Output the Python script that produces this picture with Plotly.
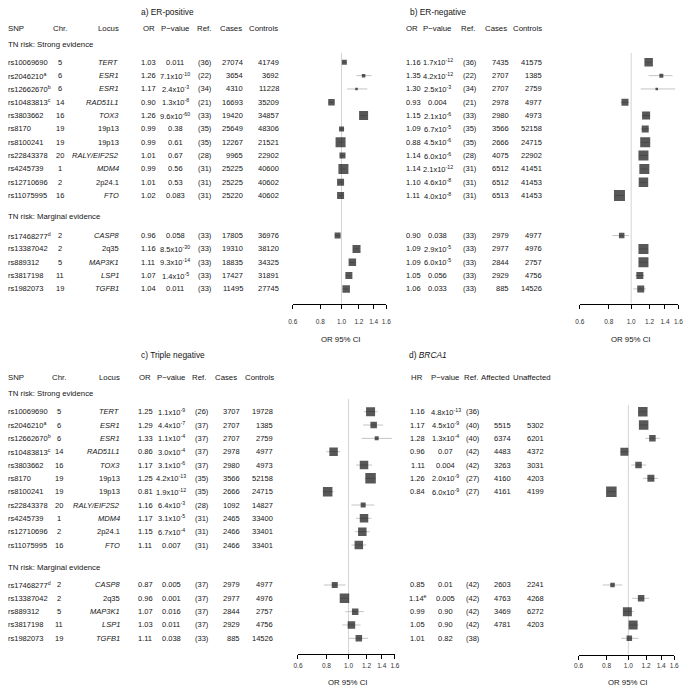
import math
import plotly.graph_objects as go

W, H = 690, 687
FONT = "Liberation Sans, Arial, sans-serif"
TXT = "#151515"
FS = 7.5      # row text
FSH = 7.8     # column headers / section labels
FST = 8.4     # panel titles

# ---------------- data ----------------
snps = ["rs10069690", "rs2046210", "rs12662670", "rs10483813", "rs3803662", "rs8170",
        "rs8100241", "rs22843378", "rs4245739", "rs12710696", "rs11075995",
        "rs17468277", "rs13387042", "rs889312", "rs3817198", "rs1982073"]
snp_notes = ["", "a", "b", "c", "", "", "", "", "", "", "", "d", "", "", "", ""]
chrs = ["5", "6", "6", "14", "16", "19", "19", "20", "1", "2", "16", "2", "2", "5", "11", "19"]
loci = ["TERT", "ESR1", "ESR1", "RAD51L1", "TOX3", "19p13", "19p13", "RALY/EIF2S2", "MDM4",
        "2p24.1", "FTO", "CASP8", "2q35", "MAP3K1", "LSP1", "TGFB1"]
loci_italic = [True, True, True, True, True, False, False, True, True, False, True,
               True, False, True, True, True]
row_index = [0, 1, 2, 3, 4, 5, 6, 7, 8, 9, 10, 13, 14, 15, 16, 17]
section_labels = ["TN risk: Strong evidence", "TN risk: Marginal evidence"]
tick_vals = [0.6, 0.8, 1.0, 1.2, 1.4, 1.6]
tick_text = ["0.6", "0.8", "1.0", "1.2", "1.4", "1.6"]

# a) ER-positive
a_or_txt = ["1.03", "1.26", "1.17", "0.90", "1.26", "0.99", "0.99", "1.01", "0.99", "1.01", "1.02",
            "0.96", "1.16", "1.11", "1.07", "1.04"]
a_p = ["0.011", "7.1x10^-10", "2.4x10^-3", "1.3x10^-8", "9.6x10^-60", "0.38", "0.61", "0.67",
       "0.56", "0.53", "0.083", "0.058", "8.5x10^-30", "9.3x10^-14", "1.4x10^-5", "0.011"]
a_ref = ["36", "22", "34", "21", "33", "35", "35", "28", "31", "31", "31", "33", "33", "33", "33", "33"]
a_cases = ["27074", "3654", "4310", "16693", "19420", "25649", "12267", "9965", "25225", "25225",
           "25220", "17805", "19310", "18835", "17427", "11495"]
a_controls = ["41749", "3692", "11228", "35209", "34857", "48306", "21521", "22902", "40600",
              "40602", "40602", "36976", "38120", "34325", "31891", "27745"]
a_est = [1.03, 1.26, 1.17, 0.90, 1.26, 1.00, 0.99, 1.01, 1.02, 0.99, 0.99, 0.96, 1.17, 1.12, 1.08, 1.05]
a_lo = [1.01, 1.17, 1.06, 0.87, 1.22, 0.98, 0.96, 0.98, 0.99, 0.97, 0.97, 0.93, 1.13, 1.09, 1.04, 1.01]
a_hi = [1.05, 1.37, 1.31, 0.93, 1.30, 1.03, 1.02, 1.04, 1.04, 1.02, 1.02, 0.99, 1.20, 1.15, 1.10, 1.07]
a_size = [5, 3.5, 2.5, 6.5, 9, 5, 10, 6, 10, 7, 7, 6, 8, 7.5, 7, 7.5]

# b) ER-negative
b_or_txt = ["1.16", "1.35", "1.30", "0.93", "1.15", "1.09", "0.88", "1.14", "1.14", "1.10", "1.11",
            "0.90", "1.09", "1.09", "1.05", "1.06"]
b_p = ["1.7x10^-12", "4.2x10^-12", "2.5x10^-3", "0.004", "2.1x10^-6", "6.7x10^-5", "4.5x10^-6",
       "6.0x10^-6", "2.1x10^-12", "4.6x10^-8", "4.0x10^-8", "0.038", "2.9x10^-5", "6.0x10^-5",
       "0.056", "0.033"]
b_ref = ["36", "22", "34", "21", "33", "35", "35", "28", "31", "31", "31", "33", "33", "33", "33", "33"]
b_cases = ["7435", "2707", "2707", "2978", "2980", "3566", "2666", "4075", "6512", "6512", "6513",
           "2979", "2977", "2844", "2929", "885"]
b_controls = ["41575", "1385", "2759", "4977", "4973", "52158", "24715", "22902", "41451", "41453",
              "41453", "4977", "4976", "2757", "4756", "14526"]
b_est = [1.19, 1.35, 1.29, 0.94, 1.16, 1.15, 1.15, 1.13, 1.14, 1.13, 0.89, 0.91, 1.13, 1.13, 1.09, 1.10]
b_lo = [1.15, 1.19, 1.10, 0.90, 1.11, 1.10, 1.10, 1.08, 1.10, 1.09, 0.85, 0.83, 1.08, 1.08, 1.04, 1.02]
b_hi = [1.23, 1.51, 1.55, 0.98, 1.21, 1.20, 1.20, 1.18, 1.18, 1.17, 0.93, 0.98, 1.18, 1.18, 1.14, 1.16]
b_size = [8.5, 4, 2.5, 7, 8, 7, 10, 10, 10, 9.5, 11, 5.5, 10, 10, 7, 7]

# c) Triple negative
c_or_txt = ["1.25", "1.29", "1.33", "0.86", "1.17", "1.25", "0.81", "1.16", "1.17", "1.15", "1.11",
            "0.87", "0.96", "1.07", "1.03", "1.11"]
c_p = ["1.1x10^-9", "4.4x10^-7", "1.1x10^-4", "3.0x10^-4", "3.1x10^-6", "4.2x10^-13", "1.9x10^-12",
       "6.4x10^-3", "3.1x10^-5", "6.7x10^-4", "0.007", "0.005", "0.001", "0.016", "0.011", "0.038"]
c_ref = ["26", "37", "37", "37", "37", "35", "35", "28", "31", "31", "31", "37", "37", "37", "37", "33"]
c_cases = ["3707", "2707", "2707", "2978", "2980", "3566", "2666", "1092", "2465", "2466", "2466",
           "2979", "2977", "2844", "2929", "885"]
c_controls = ["19728", "1385", "2759", "4977", "4973", "52158", "24715", "14827", "33400", "33401",
              "33401", "4977", "4976", "2757", "4756", "14526"]
c_est = [1.25, 1.29, 1.33, 0.86, 1.17, 1.25, 0.81, 1.16, 1.17, 1.15, 1.11, 0.87, 0.96, 1.07, 1.03, 1.11]
c_lo = [1.17, 1.16, 1.14, 0.80, 1.08, 1.18, 0.77, 1.03, 1.08, 1.07, 1.03, 0.78, 0.92, 0.97, 0.94, 1.00]
c_hi = [1.34, 1.42, 1.55, 0.92, 1.27, 1.32, 0.86, 1.30, 1.26, 1.24, 1.20, 0.97, 1.00, 1.17, 1.13, 1.22]
c_size = [9, 6.5, 4, 8.5, 8.5, 10.5, 9.5, 5, 8.5, 8.5, 8.5, 6, 9.5, 6.5, 7.5, 6.5]

# d) BRCA1
d_hr_txt = ["1.16", "1.17", "1.28", "0.96", "1.11", "1.26", "0.84", "", "", "", "",
            "0.85", "1.14^e", "0.99", "1.05", "1.01"]
d_p = ["4.8x10^-13", "4.5x10^-9", "1.3x10^-4", "0.07", "0.004", "2.0x10^-9", "6.0x10^-9", "", "", "", "",
       "0.01", "0.005", "0.90", "0.90", "0.82"]
d_ref = ["36", "40", "40", "42", "42", "27", "27", "", "", "", "", "42", "42", "42", "42", "38"]
d_affected = ["", "5515", "6374", "4483", "3263", "4160", "4161", "", "", "", "",
              "2603", "4763", "3469", "4781", ""]
d_unaffected = ["", "5302", "6201", "4372", "3031", "4203", "4199", "", "", "", "",
                "2241", "4268", "6272", "4203", ""]
d_est = [1.16, 1.17, 1.28, 0.96, 1.11, 1.26, 0.84, None, None, None, None, 0.85, 1.14, 0.99, 1.05, 1.01]
d_lo = [1.11, 1.12, 1.19, 0.92, 1.03, 1.16, 0.80, None, None, None, None, 0.77, 1.04, 0.95, 1.00, 0.93]
d_hi = [1.21, 1.22, 1.38, 1.01, 1.20, 1.36, 0.88, None, None, None, None, 0.94, 1.24, 1.06, 1.11, 1.11]
d_size = [9.5, 9.5, 6.5, 8, 6.5, 7, 10.5, 0, 0, 0, 0, 4.5, 6.5, 9, 9, 5.5]

# ---------------- layout helpers ----------------
TOP_Y0, BOT_Y0, STEP = 62.3, 411.7, 13.33


def yrange(y0, ptop, pbot):
    return [(pbot - y0) / STEP, (ptop - y0) / STEP]


def sup(s):
    if "^" in s:
        m, e = s.split("^", 1)
        return f"{m}<sup>{e}</sup>"
    return s


annotations = []


def txt(xpx, yref, yi, text, anchor, size=FS, color=TXT):
    if text == "":
        return
    annotations.append(dict(x=xpx / W, xref="paper", y=yi, yref=yref, text=text,
                            xanchor=anchor, yanchor="middle", showarrow=False, borderpad=0,
                            font=dict(family=FONT, size=size, color=color)))


def left_block(yref, title, cols, or_txt, p, ref, cases, controls, ti, hi_, si, mi):
    txt(cols["title"], yref, ti, title, "left", size=FST)
    txt(2, yref, hi_, "SNP", "left", size=FSH)
    txt(cols["chr"], yref, hi_, "Chr.", "center", size=FSH)
    txt(cols["locus"], yref, hi_, "Locus", "right", size=FSH)
    txt(cols["or_h"], yref, hi_, "OR", "center", size=FSH)
    txt(cols["p_h"], yref, hi_, "P\u2212value", "center", size=FSH)
    txt(cols["ref_h"], yref, hi_, "Ref.", "center", size=FSH)
    txt(cols["cases_h"], yref, hi_, "Cases", "right", size=FSH)
    txt(cols["ctrl_h"], yref, hi_, "Controls", "right", size=FSH)
    txt(2, yref, si, section_labels[0], "left", size=FSH)
    txt(2, yref, mi, section_labels[1], "left", size=FSH)
    for k, r in enumerate(row_index):
        name = snps[k] + (f"<sup>{snp_notes[k]}</sup>" if snp_notes[k] else "")
        txt(2, yref, r, name, "left")
        txt(cols["chr"], yref, r, chrs[k], "center")
        loc = f"<i>{loci[k]}</i>" if loci_italic[k] else loci[k]
        txt(cols["locus"], yref, r, loc, "right")
        txt(cols["or"], yref, r, or_txt[k], "center")
        txt(cols["p"], yref, r, sup(p[k]), "center")
        txt(cols["ref"], yref, r, f"({ref[k]})", "center")
        txt(cols["cases"], yref, r, cases[k], "right")
        txt(cols["ctrl"], yref, r, controls[k], "right")


def right_block(yref, title, cols, heads, or_txt, p, ref, cases, controls, ti, hi_):
    txt(cols["title"], yref, ti, title, "left", size=FST)
    txt(cols["or_h"], yref, hi_, heads[0], "center", size=FSH)
    txt(cols["p_h"], yref, hi_, "P\u2212value", "center", size=FSH)
    txt(cols["ref_h"], yref, hi_, "Ref.", "center", size=FSH)
    txt(cols["cases_h"], yref, hi_, heads[1], "right", size=FSH)
    txt(cols["ctrl_h"], yref, hi_, heads[2], "right", size=FSH)
    for k, r in enumerate(row_index):
        txt(cols["or"], yref, r, sup(or_txt[k]), "center")
        txt(cols["p"], yref, r, sup(p[k]), "center")
        txt(cols["ref"], yref, r, f"({ref[k]})" if ref[k] else "", "center")
        txt(cols["cases"], yref, r, cases[k], "right")
        txt(cols["ctrl"], yref, r, controls[k], "right")


top_ti, top_hi, top_si, top_mi = -3.75, -2.57, -1.37, 11.55
bot_ti, bot_hi, bot_si, bot_mi = -4.25, -2.55, -1.33, 11.67

left_block("y", "a) ER-positive",
           {"title": 137, "chr": 56, "locus": 117, "or_h": 146, "p_h": 173, "ref_h": 202,
            "cases_h": 242, "ctrl_h": 278, "or": 145.5, "p": 173, "ref": 203, "cases": 243, "ctrl": 279},
           a_or_txt, a_p, a_ref, a_cases, a_controls, top_ti, top_hi, top_si, top_mi)
left_block("y2", "c) Triple negative",
           {"title": 137, "chr": 55, "locus": 118, "or_h": 142, "p_h": 168, "ref_h": 197,
            "cases_h": 236, "ctrl_h": 274, "or": 142.5, "p": 168.5, "ref": 199.5, "cases": 239.5, "ctrl": 273},
           c_or_txt, c_p, c_ref, c_cases, c_controls, bot_ti, bot_hi, bot_si, bot_mi)
right_block("y", "b) ER-negative",
            {"title": 410, "or_h": 413, "p_h": 438, "ref_h": 470, "cases_h": 510, "ctrl_h": 546,
             "or": 414, "p": 439, "ref": 472, "cases": 512, "ctrl": 546},
            ["OR", "Cases", "Controls"], b_or_txt, b_p, b_ref, b_cases, b_controls, top_ti, top_hi)
right_block("y2", "d) <i>BRCA1</i>",
            {"title": 409, "or_h": 418, "p_h": 446, "ref_h": 473, "cases_h": 512, "ctrl_h": 555,
             "or": 419, "p": 447, "ref": 474.5, "cases": 514, "ctrl": 548},
            ["HR", "Affected", "Unaffected"], d_hr_txt, d_p, d_ref, d_affected, d_unaffected,
            bot_ti, bot_hi)

# ---------------- forest plots ----------------
fig = go.Figure()

panels = [
    # xaxis, yaxis, est, lo, hi, size, x domain px, axis y px, row-0 px, ref line top row, label standoff
    ("x", "y", a_est, a_lo, a_hi, a_size, (292, 387), 303.5, TOP_Y0, -0.7, 8),
    ("x2", "y", b_est, b_lo, b_hi, b_size, (583.3, 683.3), 303.5, TOP_Y0, -0.7, 8),
    ("x3", "y2", c_est, c_lo, c_hi, c_size, (297.3, 395.7), 654, BOT_Y0, -0.95, 1),
    ("x4", "y2", d_est, d_lo, d_hi, d_size, (582, 679), 654.5, BOT_Y0, -0.5, 1),
]

for xa, ya, est, lo, hi, size, dom, axy, y0, reftop, so in panels:
    axis_row = (axy - y0) / STEP
    fig.add_trace(go.Scatter(x=[1.0, 1.0], y=[reftop, axis_row], xaxis=xa, yaxis=ya, mode="lines",
                             line=dict(color="#d4d4d4", width=1), hoverinfo="skip"))
    wx, wy = [], []
    for k, r in enumerate(row_index):
        if est[k] is None:
            continue
        wx += [lo[k], hi[k], None]
        wy += [r, r, None]
    fig.add_trace(go.Scatter(x=wx, y=wy, xaxis=xa, yaxis=ya, mode="lines",
                             line=dict(color="#c4c4c4", width=1), hoverinfo="skip"))
    xs = [e for e in est if e is not None]
    ys = [r for e, r in zip(est, row_index) if e is not None]
    ss = [s for e, s in zip(est, size) if e is not None]
    fig.add_trace(go.Scatter(x=xs, y=ys, xaxis=xa, yaxis=ya, mode="markers",
                             marker=dict(symbol="square", size=ss, color="#111111",
                                         line=dict(width=0))))
    annotations.append(dict(x=(dom[0] + dom[1]) / 2 / W + 1 / W, xref="paper",
                            y=1 - (axy + (36 if ya == "y" else 28)) / H, yref="paper",
                            text="OR 95% CI", showarrow=False, xanchor="center", yanchor="middle",
                            font=dict(family=FONT, size=FSH, color=TXT)))

axis_common = dict(type="log", range=[math.log10(0.6), math.log10(1.6)], anchor="free",
                   showline=True, linecolor="#000000", linewidth=1, ticks="outside", ticklen=4,
                   tickwidth=1, tickcolor="#000000", tickvals=tick_vals, ticktext=tick_text,
                   showgrid=False, zeroline=False, tickfont=dict(family=FONT, size=6.5, color="#333333"),
                   fixedrange=True)

layout_axes = {}
names = ["xaxis", "xaxis2", "xaxis3", "xaxis4"]
for nm, p in zip(names, panels):
    dom, axy, so = p[6], p[7], p[10]
    layout_axes[nm] = dict(axis_common, domain=[dom[0] / W, dom[1] / W], position=1 - axy / H,
                           ticklabelstandoff=so)

fig.update_layout(
    width=W, height=H, margin=dict(l=0, r=0, t=0, b=0),
    paper_bgcolor="white", plot_bgcolor="rgba(0,0,0,0)", showlegend=False,
    font=dict(family=FONT, size=FS, color=TXT),
    yaxis=dict(domain=[0.5, 1], range=yrange(TOP_Y0, 0, H / 2), visible=False, anchor="free",
               position=0, fixedrange=True),
    yaxis2=dict(domain=[0, 0.5], range=yrange(BOT_Y0, H / 2, H), visible=False, anchor="free",
                position=0, fixedrange=True),
    annotations=annotations,
    **layout_axes,
)

fig.write_html("out.html", config={"displayModeBar": False, "staticPlot": True},
               post_script="document.body.style.margin='0px';document.body.style.overflow='hidden';")
